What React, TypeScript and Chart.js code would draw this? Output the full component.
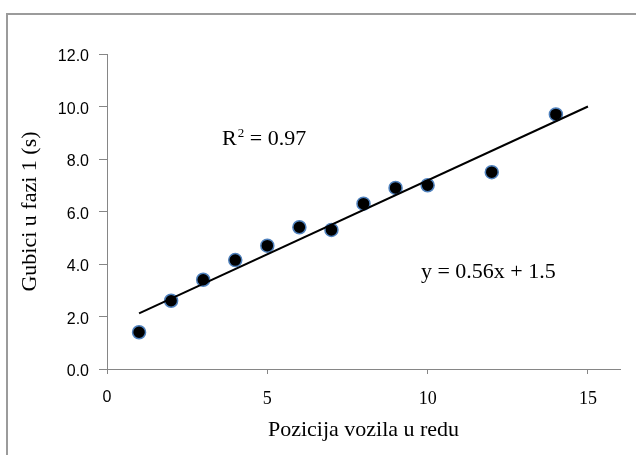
import React, { useEffect, useRef } from "react";
import { Chart, registerables } from "chart.js";

Chart.register(...registerables);

// Data
const positions = [1, 2, 3, 4, 5, 6, 7, 8, 9, 10, 12, 14];
const losses = [1.4, 2.6, 3.4, 4.15, 4.7, 5.4, 5.3, 6.3, 6.9, 7.0, 7.5, 9.7];
const trendX = [1, 15];
const trendY = [2.12, 10.0];
const xTickValues = [0, 5, 10, 15];
const yTickValues = [0, 2, 4, 6, 8, 10, 12];
const xTitle = "Pozicija vozila u redu";
const yTitle = "Gubici u fazi 1 (s)";
const r2Text = " = 0.97";
const eqText = "y = 0.56x + 1.5";
const r2Anchor = [3.59, 8.53];
const eqAnchor = [9.79, 3.47];

const SERIF = '"Liberation Serif", "Times New Roman", serif';
const SANS = '"Liberation Sans", Arial, sans-serif';

export default function App() {
  const ref = useRef<HTMLCanvasElement | null>(null);

  useEffect(() => {
    const canvas = ref.current;
    if (!canvas) return;

    const framePlugin = {
      id: "frame",
      beforeDraw(chart: any) {
        const ctx = chart.ctx;
        ctx.save();
        ctx.fillStyle = "#ffffff";
        ctx.fillRect(0, 0, chart.width, chart.height);
        ctx.strokeStyle = "#9b9b9b";
        ctx.lineWidth = 2;
        ctx.strokeRect(7, 14, chart.width + 20, chart.height + 20);
        ctx.restore();
      },
    };

    const annotPlugin = {
      id: "annot",
      afterDatasetsDraw(chart: any) {
        const { ctx } = chart;
        const xs = chart.scales.x;
        const ys = chart.scales.y;
        ctx.save();
        ctx.fillStyle = "#000000";
        ctx.textAlign = "left";
        ctx.textBaseline = "alphabetic";
        // R^2 label
        const rx = xs.getPixelForValue(r2Anchor[0]);
        const ry = ys.getPixelForValue(r2Anchor[1]);
        ctx.font = `22px ${SERIF}`;
        ctx.fillText("R", rx, ry);
        const wR = ctx.measureText("R").width;
        ctx.font = `13px ${SERIF}`;
        ctx.fillText("2", rx + wR + 1, ry - 8);
        const w2 = ctx.measureText("2").width;
        ctx.font = `22px ${SERIF}`;
        ctx.fillText(r2Text, rx + wR + w2 + 1, ry);
        // equation label
        const ex = xs.getPixelForValue(eqAnchor[0]);
        const ey = ys.getPixelForValue(eqAnchor[1]);
        ctx.fillText(eqText, ex, ey);
        ctx.restore();
      },
    };

    const chart = new Chart(canvas, {
      type: "scatter",
      data: {
        datasets: [
          {
            label: "Gubici",
            data: positions.map((p, i) => ({ x: p, y: losses[i] })),
            backgroundColor: "#000000",
            borderColor: "#4f81bd",
            borderWidth: 1.5,
            pointRadius: 6.5,
            pointHoverRadius: 6.5,
            order: 2,
          },
          {
            label: "Trend",
            type: "line",
            data: trendX.map((p, i) => ({ x: p, y: trendY[i] })),
            borderColor: "#000000",
            borderWidth: 2,
            pointRadius: 0,
            fill: false,
            showLine: true,
            order: 1,
          } as any,
        ],
      },
      options: {
        responsive: false,
        animation: false,
        layout: { padding: { top: 54, right: 16, left: 0, bottom: 0 } },
        plugins: {
          legend: { display: false },
          tooltip: { enabled: false },
        },
        scales: {
          x: {
            type: "linear",
            min: 0,
            max: 16,
            afterFit(scale: any) {
              scale.height = 86;
            },
            afterBuildTicks(scale: any) {
              scale.ticks = xTickValues.map((v) => ({ value: v }));
            },
            ticks: {
              stepSize: 5,
              includeBounds: false,
              padding: 14,
              color: "#000000",
              font: (ctx: any) =>
                ctx.tick && ctx.tick.value === 0
                  ? { family: SANS, size: 16 }
                  : { family: SERIF, size: 18 },
              callback: (v: any) => String(v),
            },
            grid: {
              drawOnChartArea: false,
              drawTicks: true,
              tickLength: 5,
              color: "#868686",
            },
            border: { display: true, color: "#868686", width: 1 },
            title: {
              display: true,
              text: xTitle,
              color: "#000000",
              font: { family: SERIF, size: 22 },
              padding: { top: 0, bottom: 12 },
            },
          },
          y: {
            type: "linear",
            min: 0,
            max: 12,
            afterFit(scale: any) {
              scale.width = 107;
            },
            afterBuildTicks(scale: any) {
              scale.ticks = yTickValues.map((v) => ({ value: v }));
            },
            ticks: {
              stepSize: 2,
              padding: 10,
              labelOffset: 3,
              color: "#000000",
              font: { family: SANS, size: 16 },
              callback: (v: any) => Number(v).toFixed(1),
            },
            grid: {
              drawOnChartArea: false,
              drawTicks: true,
              tickLength: 8,
              color: "#868686",
            },
            border: { display: true, color: "#868686", width: 1 },
            title: {
              display: true,
              text: yTitle,
              color: "#000000",
              font: { family: SERIF, size: 22 },
              padding: { top: 17, bottom: 0 },
            },
          },
        },
      },
      plugins: [framePlugin, annotPlugin],
    } as any);

    return () => chart.destroy();
  }, []);

  return (
    <div style={{ position: "absolute", left: 0, top: 0, width: 636, height: 455 }}>
      <canvas ref={ref} width={636} height={455} style={{ display: "block" }} />
    </div>
  );
}
